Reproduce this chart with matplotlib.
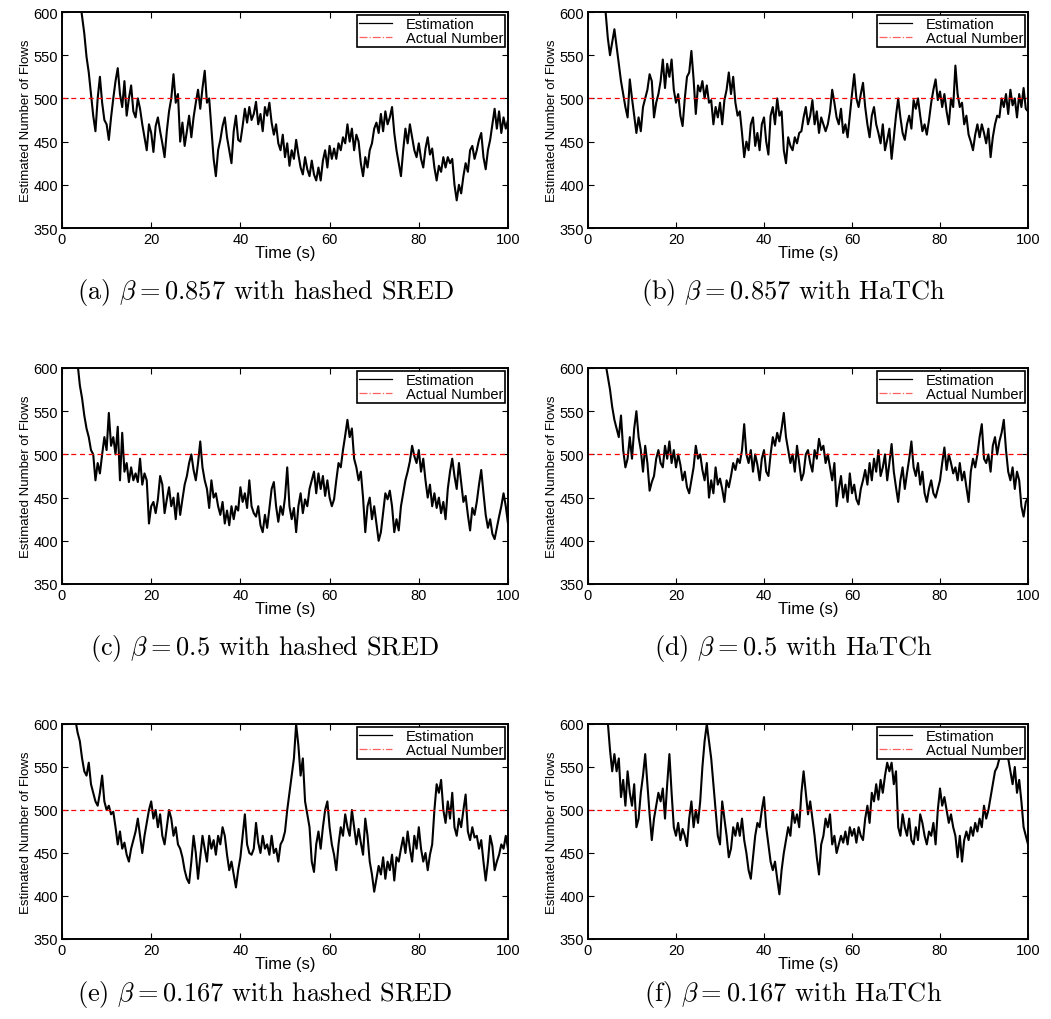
import numpy as np
import matplotlib
matplotlib.use("Agg")
import matplotlib.pyplot as plt
from matplotlib.lines import Line2D

plt.rcParams['mathtext.fontset'] = 'cm'

# estimated number of flows, sampled every 0.5 s from the first visible point to 100 s
a_start = 4.0
a_vals = [615, 595, 575, 548, 530, 505, 480, 462, 500, 525, 495, 475, 470, 452, 478, 500,
          520, 535, 505, 490, 520, 480, 500, 515, 485, 478, 500, 488, 470, 455, 440, 470,
          460, 438, 468, 478, 462, 448, 432, 462, 485, 500, 528, 495, 505, 450, 472, 445,
          462, 480, 455, 478, 495, 510, 488, 512, 532, 495, 500, 465, 430, 410, 440, 452,
          468, 478, 455, 440, 425, 462, 480, 452, 450, 468, 488, 472, 490, 475, 482, 496,
          470, 482, 462, 490, 480, 495, 472, 458, 470, 448, 440, 458, 432, 448, 422, 440,
          430, 452, 435, 420, 412, 432, 418, 410, 428, 412, 405, 420, 405, 428, 440, 420,
          445, 430, 442, 430, 448, 440, 455, 448, 470, 450, 465, 440, 458, 450, 425, 410,
          432, 420, 440, 448, 465, 472, 460, 482, 462, 485, 470, 478, 490, 460, 440, 425,
          410, 440, 465, 448, 470, 455, 440, 432, 448, 430, 420, 442, 455, 435, 442, 420,
          405, 422, 415, 432, 420, 432, 425, 430, 400, 382, 400, 390, 410, 425, 415, 440,
          445, 430, 440, 452, 460, 432, 418, 440, 452, 470, 488, 465, 485, 460, 478, 465, 475]

b_start = 4.0
b_vals = [600, 570, 550, 565, 580, 560, 540, 520, 505, 490, 478, 522, 500, 480, 460, 478,
          462, 490, 500, 510, 528, 520, 478, 495, 505, 520, 545, 512, 540, 525, 545, 510,
          495, 505, 480, 468, 500, 525, 530, 555, 522, 482, 515, 508, 520, 500, 515, 495,
          498, 470, 490, 478, 495, 470, 498, 510, 530, 505, 525, 495, 480, 485, 460, 432,
          450, 440, 470, 478, 445, 460, 440, 470, 478, 450, 435, 480, 490, 470, 500, 480,
          485, 440, 425, 455, 445, 440, 455, 448, 460, 462, 478, 490, 470, 480, 498, 470,
          485, 460, 478, 470, 462, 470, 485, 510, 495, 478, 470, 488, 460, 470, 455, 480,
          505, 528, 500, 490, 505, 518, 490, 470, 455, 480, 490, 470, 460, 448, 470, 440,
          452, 465, 430, 455, 480, 500, 478, 460, 452, 470, 480, 465, 498, 488, 500, 480,
          462, 470, 458, 475, 495, 510, 522, 498, 508, 490, 505, 485, 470, 500, 490, 538,
          505, 490, 495, 470, 480, 458, 450, 440, 458, 470, 455, 470, 460, 448, 465, 432,
          455, 470, 480, 478, 500, 490, 505, 482, 510, 492, 500, 478, 505, 490, 512, 488, 485]

c_start = 3.5
c_vals = [605, 580, 565, 545, 530, 520, 505, 500, 470, 490, 478, 500, 520, 505, 548, 510,
          520, 500, 532, 470, 525, 480, 490, 468, 485, 470, 478, 468, 495, 465, 478, 470,
          420, 440, 445, 432, 448, 475, 465, 432, 448, 462, 440, 450, 425, 455, 430, 448,
          465, 475, 490, 500, 482, 470, 490, 515, 485, 470, 460, 438, 470, 450, 455, 440,
          430, 445, 420, 435, 418, 440, 425, 440, 435, 462, 445, 455, 438, 470, 440, 432,
          428, 440, 418, 410, 430, 415, 438, 460, 468, 440, 422, 440, 430, 450, 485, 440,
          425, 438, 410, 440, 455, 432, 448, 440, 460, 470, 480, 455, 478, 460, 475, 452,
          470, 450, 440, 448, 470, 490, 485, 505, 522, 540, 520, 530, 495, 485, 470, 480,
          450, 410, 440, 450, 425, 440, 420, 400, 410, 432, 455, 448, 458, 440, 410, 425,
          412, 440, 455, 470, 480, 492, 510, 498, 490, 505, 480, 495, 470, 450, 465, 440,
          455, 438, 450, 432, 445, 425, 460, 480, 495, 475, 460, 490, 468, 445, 452, 430,
          412, 438, 430, 445, 465, 482, 455, 430, 415, 425, 408, 402, 415, 428, 440, 455,
          440, 420]

d_start = 4.0
d_vals = [605, 590, 575, 555, 540, 530, 520, 545, 505, 485, 495, 520, 495, 530, 550, 520,
          505, 480, 510, 490, 458, 468, 475, 495, 505, 490, 485, 510, 495, 515, 490, 505,
          485, 500, 488, 470, 480, 462, 455, 470, 485, 510, 495, 500, 482, 470, 490, 450,
          470, 455, 485, 465, 472, 460, 445, 470, 462, 475, 490, 482, 495, 490, 505, 535,
          500, 490, 505, 480, 500, 488, 470, 495, 505, 480, 475, 500, 520, 510, 525, 515,
          530, 548, 520, 505, 490, 500, 480, 510, 490, 470, 478, 500, 505, 490, 480, 505,
          495, 518, 505, 510, 490, 500, 485, 470, 490, 440, 460, 475, 450, 465, 445, 478,
          455, 465, 448, 442, 460, 470, 482, 465, 490, 470, 495, 480, 505, 475, 485, 500,
          470, 490, 512, 480, 462, 445, 470, 485, 460, 478, 495, 515, 485, 475, 490, 465,
          480, 455, 445, 460, 470, 455, 450, 460, 470, 490, 508, 482, 500, 490, 478, 485,
          470, 490, 470, 480, 462, 445, 480, 495, 485, 500, 520, 535, 495, 490, 500, 480,
          510, 520, 500, 515, 525, 540, 505, 480, 470, 485, 460, 480, 470, 440, 428, 445, 450]

e_start = 3.0
e_vals = [605, 590, 580, 560, 545, 540, 555, 530, 520, 510, 505, 520, 540, 510, 500, 505,
          495, 498, 480, 460, 475, 455, 462, 448, 440, 455, 465, 475, 490, 470, 450, 470,
          485, 500, 510, 490, 500, 480, 495, 470, 460, 480, 500, 490, 470, 480, 460, 455,
          445, 430, 420, 415, 440, 470, 450, 420, 445, 470, 455, 440, 470, 455, 465, 448,
          470, 460, 480, 470, 448, 430, 440, 425, 410, 430, 445, 470, 495, 460, 450, 448,
          455, 485, 462, 450, 470, 455, 460, 448, 470, 450, 455, 440, 460, 465, 475, 500,
          520, 540, 560, 600, 575, 540, 560, 510, 495, 480, 440, 428, 460, 475, 455, 480,
          500, 510, 480, 460, 448, 430, 460, 480, 470, 495, 480, 470, 500, 480, 460, 478,
          462, 448, 490, 470, 440, 425, 405, 420, 435, 425, 445, 420, 440, 430, 448, 418,
          445, 440, 455, 468, 450, 475, 455, 440, 470, 455, 480, 455, 440, 450, 430, 448,
          460, 500, 530, 520, 535, 500, 485, 510, 490, 520, 480, 470, 490, 480, 500, 518,
          475, 465, 480, 468, 470, 455, 465, 440, 418, 440, 470, 458, 430, 440, 448, 460,
          455, 470, 455]

f_start = 4.5
f_vals = [602, 570, 545, 565, 545, 560, 515, 535, 505, 545, 520, 505, 530, 480, 490, 520,
          540, 565, 530, 495, 465, 490, 505, 520, 510, 525, 490, 530, 565, 520, 480, 470,
          485, 465, 478, 470, 458, 490, 510, 480, 500, 485, 510, 550, 580, 600, 580, 560,
          530, 500, 470, 460, 510, 490, 470, 445, 455, 480, 470, 485, 470, 490, 465, 450,
          430, 420, 445, 470, 485, 480, 500, 515, 480, 460, 440, 430, 440, 420, 402, 430,
          450, 465, 480, 470, 500, 485, 495, 480, 520, 545, 520, 495, 510, 490, 470, 445,
          425, 460, 470, 490, 480, 495, 460, 470, 450, 460, 470, 462, 475, 460, 480, 470,
          478, 462, 480, 470, 465, 490, 505, 485, 520, 510, 530, 512, 535, 520, 540, 555,
          545, 555, 530, 545, 480, 470, 495, 480, 470, 490, 465, 460, 480, 465, 495, 485,
          470, 460, 475, 470, 485, 460, 500, 525, 505, 515, 500, 485, 495, 480, 470, 445,
          470, 440, 465, 475, 465, 480, 470, 485, 475, 490, 480, 505, 490, 500, 515, 530,
          545, 550, 560, 575, 560, 570, 560, 545, 530, 550, 520, 535, 510, 480, 470, 460]

actual_number = 500
captions = [r"(a) $\beta = 0.857$ with hashed SRED", r"(b) $\beta = 0.857$ with HaTCh",
            r"(c) $\beta = 0.5$ with hashed SRED", r"(d) $\beta = 0.5$ with HaTCh",
            r"(e) $\beta = 0.167$ with hashed SRED", r"(f) $\beta = 0.167$ with HaTCh"]
series = [(a_start, a_vals), (b_start, b_vals), (c_start, c_vals),
          (d_start, d_vals), (e_start, e_vals), (f_start, f_vals)]

W, H = 1051, 1020
fig = plt.figure(figsize=(W / 100, H / 100), dpi=100)

cols = [(62, 508), (588, 1028)]
rows = [(13, 229), (369, 585), (725, 940)]
cap_x = [265, 793]
cap_y = [293, 649, 995]

sans = ['Liberation Sans', 'DejaVu Sans']

for i, (start, vals) in enumerate(series):
    r, c = divmod(i, 2)
    x0, x1 = cols[c]
    y0, y1 = rows[r]
    ax = fig.add_axes([x0 / W, 1 - y1 / H, (x1 - x0) / W, (y1 - y0) / H])
    t = np.linspace(start, 100, len(vals))
    ax.plot(t, vals, color='black', lw=1.5)
    ax.axhline(actual_number, color='red', lw=0.9, dashes=(4, 3))
    ax.set_xlim(0, 100)
    ax.set_ylim(350, 600)
    ax.set_xticks(range(0, 101, 20))
    ax.set_yticks(range(350, 601, 50))
    ax.tick_params(direction='in', top=True, right=True, length=4, width=0.8,
                   labelsize=10.5, pad=3)
    for lab in ax.get_xticklabels() + ax.get_yticklabels():
        lab.set_family(sans)
    for s in ax.spines.values():
        s.set_linewidth(1.4)
    ax.set_xlabel('Time (s)', fontsize=12, family=sans, labelpad=-1)
    ax.set_ylabel('Estimated Number of Flows', fontsize=9.5, family=sans, labelpad=1)

    handles = [Line2D([], [], color='black', lw=0.9),
               Line2D([], [], color='#ff6060', lw=0.9, ls='-.')]
    leg = ax.legend(handles, ['Estimation', 'Actual Number'], loc='upper right',
                    prop={'family': sans, 'size': 10.5}, fancybox=False,
                    edgecolor='black', framealpha=1, borderpad=0.15, labelspacing=0.0,
                    handlelength=2.3, handletextpad=0.9, borderaxespad=0.2)
    leg.get_frame().set_linewidth(1.2)

    fig.text(cap_x[c] / W, 1 - cap_y[r] / H, captions[i], ha='center', va='center',
             fontsize=19, family='cmr10')

fig.savefig('out.png', dpi=100)
